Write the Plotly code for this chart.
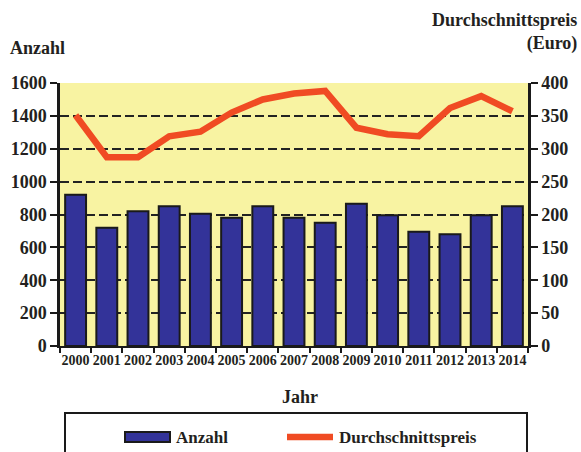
import plotly.graph_objects as go

years = ["2000", "2001", "2002", "2003", "2004", "2005", "2006", "2007",
         "2008", "2009", "2010", "2011", "2012", "2013", "2014"]
anzahl = [920, 720, 820, 850, 805, 780, 850, 780, 750, 865, 795, 695, 680, 795, 850]
preis = [351, 287, 287, 319, 326, 355, 375, 384, 388, 332, 322, 319, 362, 380, 357]

left_ticks = [0, 200, 400, 600, 800, 1000, 1200, 1400, 1600]
right_ticks = [0, 50, 100, 150, 200, 250, 300, 350, 400]

FONT = "Liberation Serif"
TXT = "#231F20"
BAR = "#333399"
LINE = "#F04B23"

# plot area in pixels
L, R, T, B = 60, 528, 83, 346
PW, PH = R - L, B - T


def px(x):
    return (x - L) / PW


def py(y):
    return (B - y) / PH


fig = go.Figure()
fig.add_trace(go.Bar(
    x=years, y=anzahl, name="Anzahl",
    marker=dict(color=BAR, line=dict(color="#1a1a1a", width=2)),
    yaxis="y", showlegend=False,
))
fig.add_trace(go.Scatter(
    x=years, y=preis, name="Durchschnittspreis", mode="lines",
    line=dict(color=LINE, width=6.5),
    yaxis="y2", showlegend=False,
))

bold = lambda s: dict(family=FONT, size=s, color=TXT, weight="bold")

fig.update_layout(
    width=581, height=452,
    margin=dict(l=L, r=581 - R, t=T, b=452 - B, autoexpand=False),
    paper_bgcolor="white",
    plot_bgcolor="#F8F3A2",
    font=bold(18),
    bargap=0.33,
    showlegend=False,
    xaxis=dict(
        type="category", showline=True, linecolor="#1a1a1a", linewidth=2,
        ticks="outside", tickson="boundaries", ticklen=5, tickcolor="#1a1a1a",
        tickwidth=2, tickangle=0, automargin=False,
        tickfont=bold(14),
        showgrid=False,
    ),
    yaxis=dict(
        range=[0, 1600], tickvals=left_ticks, automargin=False,
        showline=True, linecolor="#1a1a1a", linewidth=2.5,
        ticks="outside", ticklen=7, tickcolor="#1a1a1a", tickwidth=2,
        tickfont=bold(18),
        showgrid=True, gridcolor="#222222", gridwidth=2.2, griddash="9px,4px",
        zeroline=False,
    ),
    yaxis2=dict(
        range=[0, 400], tickvals=right_ticks, overlaying="y", side="right",
        automargin=False,
        showline=True, linecolor="#1a1a1a", linewidth=2.5,
        ticks="outside", ticklen=7, tickcolor="#1a1a1a", tickwidth=2,
        tickfont=bold(18),
        showgrid=False, zeroline=False,
    ),
    annotations=[
        dict(text="Anzahl", xref="paper", yref="paper", x=px(8), y=py(48),
             xanchor="left", yanchor="middle", showarrow=False, font=bold(18)),
        dict(text="Durchschnittspreis<br>(Euro)", xref="paper", yref="paper",
             x=px(579), y=py(32), xanchor="right", yanchor="middle", align="right",
             showarrow=False, font=bold(18)),
        dict(text="Jahr", xref="paper", yref="paper", x=px(300), y=py(397),
             xanchor="center", yanchor="middle", showarrow=False, font=bold(18)),
        # legend labels
        dict(text="Anzahl", xref="paper", yref="paper", x=px(174), y=py(438),
             xanchor="left", yanchor="middle", showarrow=False, font=bold(17)),
        dict(text="Durchschnittspreis", xref="paper", yref="paper", x=px(337),
             y=py(438), xanchor="left", yanchor="middle", showarrow=False,
             font=bold(17)),
    ],
    shapes=[
        # legend frame
        dict(type="rect", xref="paper", yref="paper",
             x0=px(65), x1=px(527), y0=py(413), y1=py(470),
             line=dict(color="#1a1a1a", width=2), fillcolor="rgba(0,0,0,0)",
             layer="above"),
        # legend symbol: bars
        dict(type="rect", xref="paper", yref="paper",
             x0=px(125), x1=px(170), y0=py(432), y1=py(442),
             line=dict(color="#1a1a1a", width=2), fillcolor=BAR, layer="above"),
        # legend symbol: line
        dict(type="line", xref="paper", yref="paper",
             x0=px(287), x1=px(333), y0=py(437), y1=py(437),
             line=dict(color=LINE, width=6.5), layer="above"),
    ],
)

fig.write_html(
    "out.html",
    config={"displayModeBar": False},
    post_script="document.body.style.margin='0';document.body.style.overflow='hidden';",
)
